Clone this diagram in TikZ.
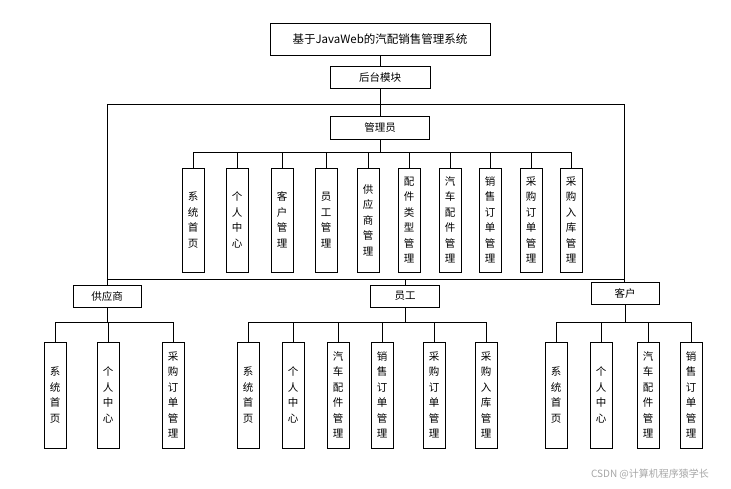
\documentclass[tikz,border=0pt]{standalone}
\usepackage{fontspec}
\newfontfamily\cjk{Noto Sans CJK SC}
\begin{document}
\begin{tikzpicture}[x=1pt,y=-1pt,
  every node/.style={font=\cjk\fontsize{10.5}{15.5}\selectfont},
  hbox/.style={draw,thick,inner sep=0pt,minimum height=22pt},
  vbox/.style={draw,thick,inner sep=0pt,minimum width=22pt,align=center},
  ln/.style={thick}]
\useasboundingbox (0,0) rectangle (731,488);
\node[hbox,minimum width=220,minimum height=32,font=\cjk\fontsize{11.5}{14}\selectfont] (title) at (380,39) {基于JavaWeb的汽配销售管理系统};
\node[hbox,minimum width=100] (ht) at (380,77) {后台模块};
\node[hbox,minimum width=99,minimum height=23] (gly) at (380,128) {管理员};
\coordinate (tl) at (107,104);
\coordinate (tr) at (624,104);
\coordinate (bl) at (107,279);
\coordinate (br) at (624,279);
\coordinate (top) at (380,104);
\draw[ln] (title) -- (ht);
\draw[ln] (ht) -- (top);
\draw[ln] (bl) -- (tl) -- (tr) -- (br);
\draw[ln] (top) -- (gly);
% admin children
\foreach \n/\x/\t in {a1/193/{系\\统\\首\\页},a2/237/{个\\人\\中\\心},a3/282/{客\\户\\管\\理},a4/326/{员\\工\\管\\理},a5/368/{供\\应\\商\\管\\理},a6/409/{配\\件\\类\\型\\管\\理},a7/450/{汽\\车\\配\\件\\管\\理},a8/490/{销\\售\\订\\单\\管\\理},a9/531/{采\\购\\订\\单\\管\\理},a10/571/{采\\购\\入\\库\\管\\理}}{
  \node[vbox,minimum height=104] (\n) at (\x,220) {\t};
  \draw[ln] (gly.south) |- (\x,152) -- (\n.north);
}
% second level
\node[hbox,minimum width=68] (gys) at (107,296) {供应商};
\node[hbox,minimum width=69] (yg) at (405,296) {员工};
\node[hbox,minimum width=68] (kh) at (625,293) {客户};
\draw[ln] (bl) -- (br);
\draw[ln] (bl) -- (gys);
\draw[ln] (br) -- (kh.north -| br);
\draw[ln] (yg.north |- bl) -- (yg);
\foreach \n/\x/\t in {b1/55/{系\\统\\首\\页},b2/108/{个\\人\\中\\心},b3/173/{采\\购\\订\\单\\管\\理}}{
  \node[vbox,minimum height=106] (\n) at (\x,395) {\t};
  \draw[ln] (gys.south) |- (\x,322) -- (\n.north);
}
\foreach \n/\x/\t in {c1/248/{系\\统\\首\\页},c2/293/{个\\人\\中\\心},c3/338/{汽\\车\\配\\件\\管\\理},c4/382/{销\\售\\订\\单\\管\\理},c5/434/{采\\购\\订\\单\\管\\理},c6/486/{采\\购\\入\\库\\管\\理}}{
  \node[vbox,minimum height=106] (\n) at (\x,395) {\t};
  \draw[ln] (yg.south) |- (\x,322) -- (\n.north);
}
\foreach \n/\x/\t in {d1/556/{系\\统\\首\\页},d2/601/{个\\人\\中\\心},d3/648/{汽\\车\\配\\件\\管\\理},d4/691/{销\\售\\订\\单\\管\\理}}{
  \node[vbox,minimum height=106] (\n) at (\x,395) {\t};
  \draw[ln] (kh.south) |- (\x,322) -- (\n.north);
}
\node[text=gray!70,font=\cjk\fontsize{10}{12}\selectfont] (wm) at (650,474) {CSDN @计算机程序猿学长};
\end{tikzpicture}
\end{document}
